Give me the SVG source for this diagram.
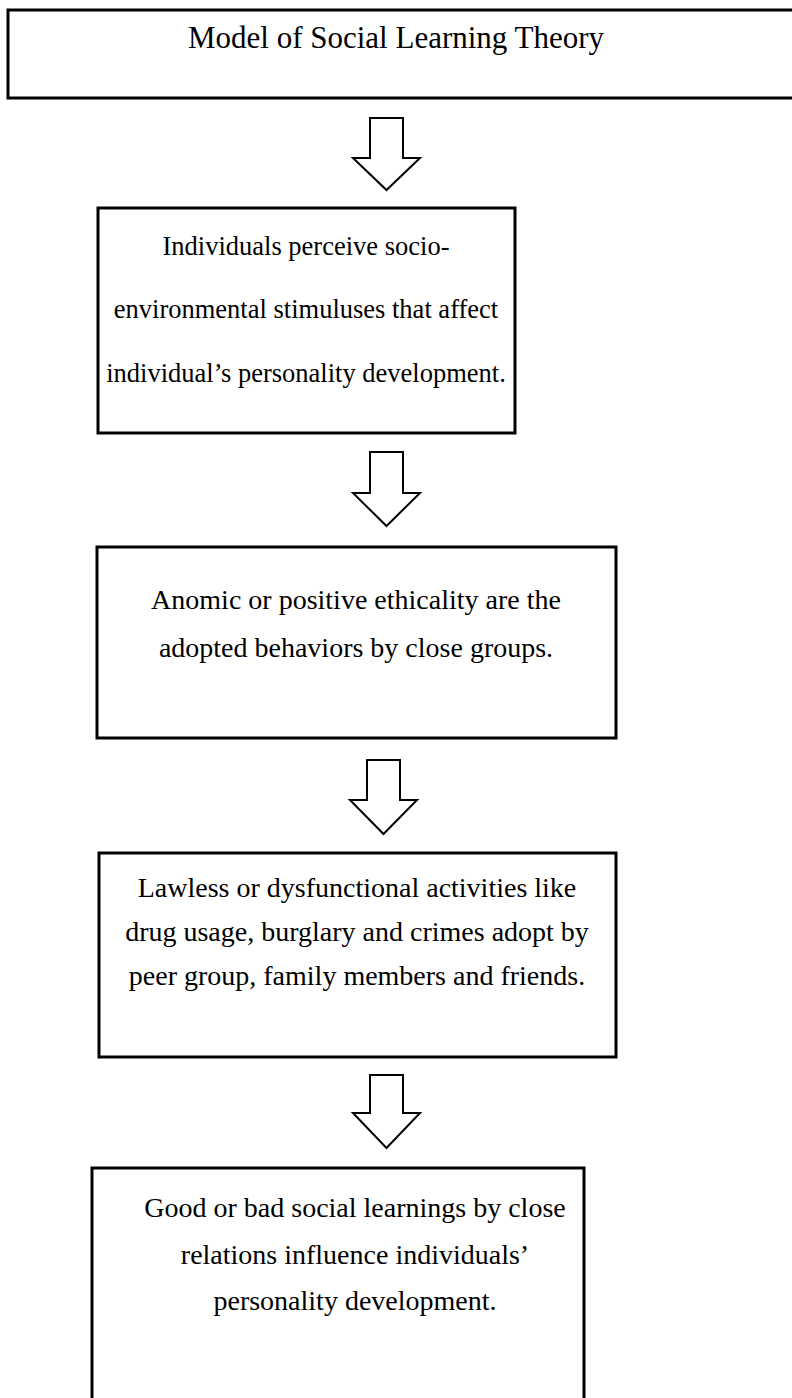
<svg xmlns="http://www.w3.org/2000/svg" width="792" height="1398" viewBox="0 0 792 1398">
<defs>
<style>
.box{fill:#fff;stroke:#000;stroke-width:3}
.arrow{fill:#fff;stroke:#000;stroke-width:2;stroke-linejoin:miter}
text{font-family:"Liberation Serif","Times New Roman",serif;fill:#000;text-anchor:middle}
.t{font-size:31px}
.b2{font-size:26.5px}
.b{font-size:28px}
</style>
</defs>
<rect width="792" height="1398" fill="#fff"/>
<g id="title">
<rect class="box" x="8" y="10" width="800" height="88"/>
<text class="t" x="396" y="48">Model of Social Learning Theory</text>
</g>
<g id="connectors">
<path class="arrow" d="M370,118 H403 V158 H420 L386.5,190 L353,158 H370 Z"/>
<path class="arrow" d="M370,452 H403 V493 H420 L386.5,526 L353,493 H370 Z"/>
<path class="arrow" d="M367,760 H400 V800 H417 L383.5,834 L350,800 H367 Z"/>
<path class="arrow" d="M370,1075 H403 V1113 H420 L386.5,1148 L353,1113 H370 Z"/>
</g>
<g id="node1">
<rect class="box" x="98" y="208" width="417" height="225"/>
<text class="b2" x="306" y="255">Individuals perceive socio-</text>
<text class="b2" x="306" y="318">environmental stimuluses that affect</text>
<text class="b2" x="306" y="382">individual’s personality development.</text>
</g>
<g id="node2">
<rect class="box" x="97" y="547" width="519" height="191"/>
<text class="b" x="356" y="609">Anomic or positive ethicality are the</text>
<text class="b" x="356" y="657">adopted behaviors by close groups.</text>
</g>
<g id="node3">
<rect class="box" x="99" y="853" width="517" height="204"/>
<text class="b" x="357" y="897">Lawless or dysfunctional activities like</text>
<text class="b" x="357" y="941">drug usage, burglary and crimes adopt by</text>
<text class="b" x="357" y="985">peer group, family members and friends.</text>
</g>
<g id="node4">
<rect class="box" x="92" y="1168" width="492" height="250"/>
<text class="b" x="355" y="1217">Good or bad social learnings by close</text>
<text class="b" x="355" y="1264">relations influence individuals’</text>
<text class="b" x="355" y="1310">personality development.</text>
</g>
</svg>
